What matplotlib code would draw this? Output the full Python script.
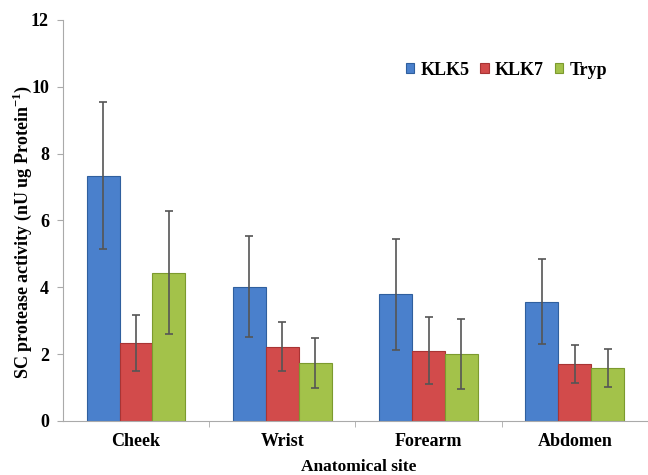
import matplotlib
matplotlib.use('Agg')
import matplotlib.pyplot as plt
import numpy as np

sites = ['Cheek', 'Wrist', 'Forearm', 'Abdomen']
series = ['KLK5', 'KLK7', 'Tryp']
klk5 = [7.34, 4.02, 3.79, 3.56]
klk5_err = [2.2, 1.5, 1.66, 1.27]
klk7 = [2.33, 2.22, 2.10, 1.71]
klk7_err = [0.85, 0.73, 1.0, 0.57]
tryp = [4.44, 1.73, 2.00, 1.58]
tryp_err = [1.83, 0.74, 1.05, 0.56]
y_ticks = [0, 2, 4, 6, 8, 10, 12]

colors = ['#4a80cc', '#d24b4b', '#a3c24a']
edges = ['#2f5f9e', '#a83434', '#7c9a2e']

plt.rcParams['font.family'] = ['Liberation Serif', 'DejaVu Serif']
plt.rcParams['mathtext.fontset'] = 'custom'
plt.rcParams['mathtext.rm'] = 'Liberation Serif:bold'
plt.rcParams['mathtext.bf'] = 'Liberation Serif:bold'

fig = plt.figure(figsize=(6.48, 4.75), dpi=100)
ax = fig.add_axes([0.097, 0.114, 0.903, 0.844])

x = np.arange(len(sites))
w = 0.225
data = [(klk5, klk5_err), (klk7, klk7_err), (tryp, tryp_err)]
for i, (vals, errs) in enumerate(data):
    pos = x + (i - 1) * w
    ax.bar(pos, vals, width=w, color=colors[i], edgecolor=edges[i],
           linewidth=0.8, label=series[i], zorder=2)
    ax.errorbar(pos, vals, yerr=errs, fmt='none', ecolor='#555555',
                elinewidth=1.2, capsize=3, capthick=1.2, zorder=3)

ax.set_xlim(-0.5, 3.5)
ax.set_ylim(0, 12)
ax.set_yticks(y_ticks)
ax.set_yticklabels([str(t) for t in y_ticks], fontsize=13, fontweight='bold')
ax.set_xticks(x)
ax.set_xticklabels(sites, fontsize=13, fontweight='bold')
ax.tick_params(axis='x', length=0, pad=9)
ax.set_xticks([0.5, 1.5, 2.5], minor=True)
ax.tick_params(axis='x', which='minor', length=4, color='#aaaaaa', direction='out')
ax.tick_params(axis='y', length=4, color='#aaaaaa', pad=6)

for s in ['top', 'right']:
    ax.spines[s].set_visible(False)
for s in ['left', 'bottom']:
    ax.spines[s].set_color('#aaaaaa')

ax.set_ylabel('SC protease activity (nU ug Protein$^{-1}$)', fontsize=13,
              fontweight='bold')
ax.yaxis.set_label_coords(-0.05, 0.47)
ax.set_xlabel('Anatomical site', fontsize=12.5, fontweight='bold')
ax.xaxis.set_label_coords(0.506, -0.095)

leg = ax.legend(loc='center left', bbox_to_anchor=(0.559, 0.875), ncol=3,
                frameon=False, handlelength=0.45, handleheight=0.45,
                handletextpad=0.35, columnspacing=0.6,
                prop={'weight': 'bold', 'size': 13})

fig.savefig('out.png', dpi=100)
